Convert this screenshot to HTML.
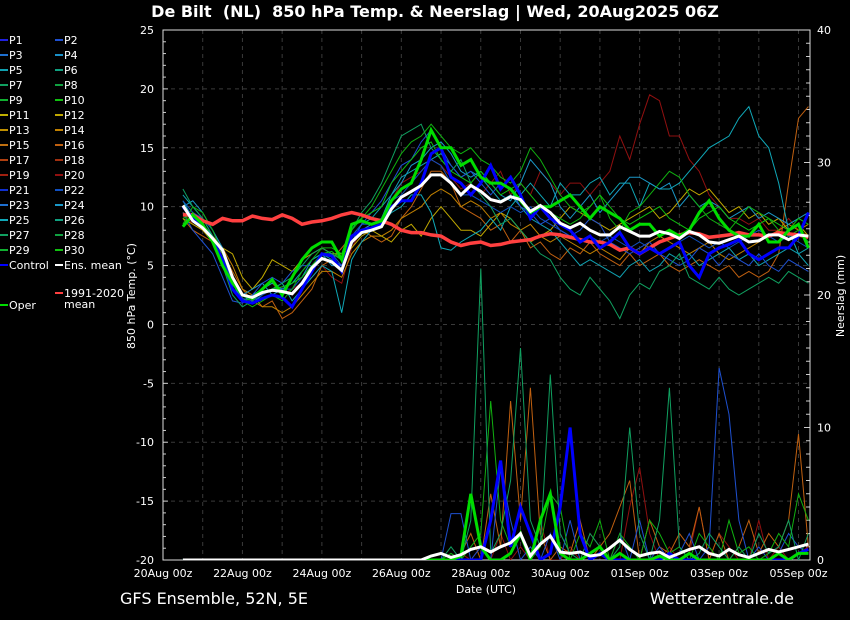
<!DOCTYPE html>
<html><head><meta charset="utf-8"><style>
html,body{margin:0;padding:0;background:#000;}
svg{display:block;font-family:"DejaVu Sans","Liberation Sans",sans-serif;}
</style></head><body>
<svg id="c" width="850" height="620" viewBox="0 0 850 620">
<rect x="0" y="0" width="850" height="620" fill="#000"/>
<text x="435" y="17" fill="#fff" font-size="16" font-weight="bold" text-anchor="middle" style="white-space:pre" xml:space="preserve">De Bilt  (NL)  850 hPa Temp. &amp; Neerslag | Wed, 20Aug2025 06Z</text>
<text x="120" y="604" fill="#fff" font-size="16">GFS Ensemble, 52N, 5E</text>
<text x="794" y="604" fill="#fff" font-size="16" text-anchor="end">Wetterzentrale.de</text>
<text x="486" y="593" fill="#fff" font-size="11" text-anchor="middle">Date (UTC)</text>
<text transform="translate(135,296) rotate(-90)" fill="#fff" font-size="11" text-anchor="middle">850 hPa Temp. (°C)</text>
<text transform="translate(844,296) rotate(-90)" fill="#fff" font-size="11" text-anchor="middle">Neerslag (mm)</text>
<g id="grid"></g>
<g id="axes"></g>
<defs><clipPath id="clip"><rect x="163" y="30" width="647" height="530"/></clipPath></defs>
<g id="plot" clip-path="url(#clip)"></g>
<g id="legend"></g>
</svg>
<script>
// ---- data (index 0 = 20Aug 12z, 6-hour steps) ----
const xTickLabels=["20Aug 00z","22Aug 00z","24Aug 00z","26Aug 00z","28Aug 00z","30Aug 00z","01Sep 00z","03Sep 00z","05Sep 00z"];
const yTicks=[25,20,15,10,5,0,-5,-10,-15,-20];
const y2Ticks=[40,30,20,10,0];
const ensMean=[10.1,8.8, 8.2,7.3,6.3,4.0, 2.5,2.3,2.7,2.9, 2.8,2.6,3.5,4.8, 5.6,5.3,4.6,7.0, 7.8,8.0,8.3,9.8, 10.8,11.3,11.8,12.7, 12.7,12.0,11.0,11.8, 11.3,10.6,10.4,10.85, 10.6,9.6,10.1,9.5, 8.6,8.2,8.6,8.0, 7.6,7.6,8.3,7.9, 7.5,7.5,7.9,7.7, 7.3,7.9,7.6,7.0, 6.9,7.2,7.5,7.0, 7.1,7.6,7.6,7.2, 7.6,7.5];
const control=[10.0,9.0, 8.3,7.2,5.5,3.0, 2.0,1.8,2.2,2.5, 2.3,1.5,3.0,4.5, 6.0,5.8,4.5,7.5, 8.0,8.2,8.5,10.0, 10.5,10.5,12.0,14.5, 15.0,12.5,12.0,11.0, 12.0,13.5,11.5,12.5, 11.0,9.0,10.0,9.0, 8.5,8.0,7.0,7.5, 6.5,7.0,7.8,6.5, 6.0,6.5,6.0,6.5, 7.0,5.0,4.0,6.0, 6.5,6.8,7.2,6.0, 5.5,6.0,6.5,6.5, 7.5,9.5];
const oper=[8.3,9.3, 8.5,7.0,5.0,3.5, 2.5,2.2,3.0,3.8, 2.5,4.0,5.5,6.5, 7.0,7.0,5.5,8.5, 8.8,8.5,8.8,10.5, 11.5,12.0,14.0,16.5, 15.0,15.0,13.5,14.0, 12.5,12.0,12.0,11.5, 10.5,9.5,10.0,10.0, 10.5,11.0,10.0,9.0, 10.0,9.5,9.0,8.0, 8.5,8.5,7.5,8.0, 7.5,8.0,9.5,10.5, 9.0,8.0,7.5,7.5, 8.5,7.0,7.0,8.0, 8.5,6.5];
const climMean=[9.3,9.3, 8.8,8.5,9.0,8.8, 8.8,9.2,9.0,8.9, 9.3,9.0,8.5,8.7, 8.8,9.0,9.3,9.5, 9.3,9.0,8.8,8.5, 8.0,7.8,7.8,7.6, 7.5,7.0,6.7,6.9, 7.0,6.7,6.8,7.0, 7.1,7.2,7.5,7.7, 7.6,7.4,7.2,7.0, 7.0,6.8,6.3,6.5, 6.0,6.5,7.0,7.3, 7.6,7.8,7.7,7.4, 7.5,7.6,7.8,7.6, 7.6,7.5,7.8,7.7, 7.6,7.4];
const p20=[9.5,8.5, 8.0,7.0,6.0,4.0, 2.0,2.5,3.0,3.5, 2.5,3.0,3.5,4.0, 5.0,4.0,3.5,6.5, 8.0,8.5,9.0,10.5, 12.0,12.5,13.0,14.0, 13.5,12.5,11.5,12.0, 11.0,12.0,13.0,11.0, 12.0,11.0,13.0,12.0, 11.0,12.0,12.0,11.0, 12.0,13.0,16.0,14.0, 17.0,19.5,19.0,16.0, 16.0,14.0,13.0,11.0, 10.0,9.0,9.0,8.5, 9.0,8.0,8.0,9.0, 8.0,7.5];
const p25=[10.5,9.0, 8.5,7.5,6.0,3.5, 2.0,1.8,2.5,3.0, 3.5,2.0,3.0,4.0, 5.0,4.5,1.0,5.5, 7.0,8.0,8.5,9.5, 10.0,11.0,11.0,9.5, 6.5,6.3,7.0,7.5, 8.0,9.0,8.0,10.0, 11.0,12.0,11.0,10.0, 12.0,11.0,11.0,12.0, 12.5,11.0,12.0,12.0, 10.0,12.0,11.5,11.5, 12.0,13.0,14.0,15.0, 15.5,16.0,17.5,18.5, 16.0,15.0,12.0,8.0, 6.0,5.0];
const p16=[9.0,8.0, 7.5,7.0,6.0,4.5, 3.0,2.0,1.5,2.0, 0.5,1.0,2.0,3.0, 5.0,5.5,6.5,7.5, 8.0,7.5,7.0,7.5, 9.0,10.0,11.5,13.0, 13.0,12.0,10.0,9.5, 9.0,8.0,8.5,7.0, 8.0,6.5,7.0,6.0, 5.5,6.5,6.0,7.0, 6.0,5.5,5.0,6.0, 5.0,5.5,6.0,5.0, 4.5,5.0,5.5,5.0, 4.5,5.0,4.0,4.5, 4.0,4.5,6.0,12.0, 17.5,18.5];
const p7=[11.5,10.0, 9.0,7.5,5.0,2.5, 1.5,2.0,2.8,3.0, 3.5,4.0,5.0,6.0, 6.5,6.0,5.5,8.0, 9.5,10.5,12.0,14.0, 16.0,16.5,17.0,15.0, 14.0,13.0,14.0,12.0, 11.0,10.0,8.5,9.0, 8.0,7.0,6.0,5.5, 4.0,3.0,2.5,4.0, 3.0,2.0,0.5,2.5, 3.5,3.0,4.5,5.0, 6.0,4.0,3.5,3.0, 4.0,3.0,2.5,3.0, 3.5,4.0,3.5,4.5, 4.0,3.5];
const p24=[10.0,10.5, 9.5,8.0,6.5,4.0, 2.5,3.0,3.5,2.5, 3.0,3.5,4.0,5.5, 6.0,5.0,5.0,7.0, 8.0,8.5,9.0,11.0, 12.0,13.5,14.0,15.0, 15.5,14.5,13.0,12.5, 13.0,12.0,11.0,10.5, 12.0,14.0,13.0,12.0, 10.0,9.0,10.0,11.0, 9.5,10.5,11.5,12.5, 12.5,12.0,11.5,12.0, 10.0,11.0,10.0,10.5, 10.0,9.0,9.5,10.0, 9.0,9.5,9.0,8.5, 9.0,9.5];
const p12=[9.0,8.5, 8.0,7.0,6.5,6.0, 4.0,3.0,4.0,5.5, 5.0,4.5,5.5,6.0, 6.5,6.0,6.0,6.5, 7.5,8.0,7.5,7.0, 8.0,8.5,7.5,9.0, 10.0,9.0,8.0,8.0, 7.5,8.5,9.5,9.0, 8.0,7.0,7.5,8.0, 9.0,10.0,9.5,9.0, 8.5,8.0,8.5,9.0, 9.5,10.0,9.0,9.5, 10.5,11.5,11.0,11.5, 10.5,9.5,10.0,9.0, 9.5,8.5,9.0,8.0, 8.5,7.5];
const p2=[9.5,8.0, 7.0,6.0,4.0,2.0, 1.8,2.5,3.5,4.0, 3.5,4.5,5.0,5.0, 5.5,5.5,5.0,7.0, 8.5,9.5,10.5,12.0, 13.5,14.0,15.5,16.5, 15.0,13.5,12.5,13.0, 12.0,11.0,12.0,11.5, 10.0,9.5,8.5,9.0, 8.0,7.5,8.0,9.0, 8.5,7.0,6.5,6.0, 6.5,7.0,6.0,5.5, 5.0,5.5,6.5,6.0, 5.0,6.0,5.5,5.0, 6.0,5.0,4.5,5.5, 5.0,4.5];
const p30=[8.5,10.0, 9.5,8.0,6.0,3.0, 2.0,1.5,2.0,2.5, 2.0,3.0,4.5,5.5, 6.5,6.5,6.0,8.5, 9.0,10.0,11.5,13.0, 14.5,15.5,16.0,17.0, 16.0,15.0,14.5,15.0, 14.0,13.5,12.5,12.0, 13.0,15.0,14.0,12.5, 11.0,10.0,9.5,10.0, 11.0,9.0,8.0,9.5, 10.0,11.0,12.0,13.0, 12.5,11.0,10.0,9.0, 8.5,8.0,9.0,10.0, 9.5,9.0,8.0,7.5, 8.0,7.0];
const p5=[11,10, 9,7.5,6,3.5, 2,2.5,3,3.5, 3,3.5,4.5,5.5, 6,5.5,5,7, 8.5,9,10,11, 12.5,13,13.5,14, 14.5,13.5,12.5,13, 12.5,11.5,10.5,11, 10,9,8.5,8, 7,6,5,5.5, 5,4.5,4,5, 5.5,4.5,5,6, 5.5,6,5,5.5, 6,6.5,5.5,6, 5,5.5,6,6.5, 6,6.5];
const p10=[9,9.5, 8.5,7,5.5,3, 2,2.2,2.8,3, 3.2,3.5,4,5, 6,6.2,5.5,8, 9,9.5,10,12, 13,14,15,15.5, 14,13,12.5,12, 13,12,11,11.5, 12,11,10,9.5, 9,8.5,9,10, 11,10,9,8.5, 9,9.5,10,9, 8.5,8,9,9.5, 10,9,8.5,8, 8.5,9,8.5,8, 9,8.5];
const p14=[9.5,9, 8.5,7.5,6.5,5, 3,2.5,1.5,1.5, 1,1.5,2.5,3.5, 4.5,4.5,4,6, 7,7.5,7.5,8, 9,9.5,10,11, 11.5,11,10,10.5, 10,9,9.5,8.5, 8,8.5,7.5,7, 7.5,7,6.5,6, 6.5,6,5.5,6.5, 6,7,7.5,7, 6.5,6,6.5,7, 6,5.5,6,6.5, 7,7.5,8,8.5, 8,8.5];
const p22=[10.5,9.5, 9,8,6,3.5, 2.2,2,2.5,3, 3,3,4,5, 6,6,5,7.5, 8.5,8.5,9,10.5, 11,12,13,14, 13.5,12,11,11, 10.5,10,9.5,10, 9.5,10,9,8.5, 8,7.5,7,7.5, 7,7.5,7,6.5, 7,6.5,6,6.5, 7,7.5,7,6.5, 7,6.5,7,7.5, 8,7.5,7,7.5, 7,6.5];
// precipitation (mm)
const precipMean=[0,0,0,0,0,0,0,0,0,0,0,0,0,0,0,0,0,0,0,0,0,0,0,0, 0,0.3,0.5,0.2,0.4,0.8,1.0,0.6,1.0,1.3,2.0,0.3,1.2,1.8,0.6,0.5,0.6,0.3,0.4,0.9,1.5,0.8,0.3,0.5,0.6,0.2,0.5,0.8,1.0,0.5,0.3,0.8,0.4,0.2,0.5,0.8,0.6,0.8,1.0,1.2];
const precipControl=[0,0,0,0,0,0,0,0,0,0,0,0,0,0,0,0,0,0,0,0,0,0,0,0, 0,0,0,0,0,0,0,3,7.5,1,4,2,0,0.5,4,10,2,0,0.5,0,0,0,0,0,0,0.5,0,0,0,0,0,0,0,0,0,0,0,0,0.5,0.8];
const precipOper=[0,0,0,0,0,0,0,0,0,0,0,0,0,0,0,0,0,0,0,0,0,0,0,0, 0,0,0,0,0.3,5,1,0,0,0.5,2,0,3,5,0.5,0,0,0.5,1,0,0.5,0,0,0,0.3,0,0,0.5,0,0,0,0,0,0,0,0,0.5,0,0.5,0.5];
const precipP7=[0,0,0,0,0,0,0,0,0,0,0,0,0,0,0,0,0,0,0,0,0,0,0,0, 0,0,0,1,0,3,22,0.5,2,6,16,3,1,14,2,0.5,0,2,1,0,1,10,2,0,3,13,1,0,0.5,2,1,0,1,0,2,0.5,1,3,0,2];
const precipP16=[0,0,0,0,0,0,0,0,0,0,0,0,0,0,0,0,0,0,0,0,0,0,0,0, 0,0,0,0,0.5,2,0,5,1,12,3,13,2,0,1,0.5,3,0,1,2,4,6,0,3,1,0.5,2,1,4,0,2,0,1,3,0.5,2,1,3,9.5,1];
const precipP2=[0,0,0,0,0,0,0,0,0,0,0,0,0,0,0,0,0,0,0,0,0,0,0,0, 0,0,0,3.5,3.5,0,1,0,7,3,0,1,0,2,0,3,0,0.5,1,0,2,0,3,0,1,0,0.5,2,0,1,14.5,11,3,0,1,0,0.5,2,1,0.5];
const precipP20=[0,0,0,0,0,0,0,0,0,0,0,0,0,0,0,0,0,0,0,0,0,0,0,0, 0,0,0,0,0.5,0,1,0,2,0,1,0,3,0,0,1,0,2,1,0,0,4,7,2,0,1,0,0.5,4,0,2,1,0,0,3,0,1,0,0.5,1];
const precipP30=[0,0,0,0,0,0,0,0,0,0,0,0,0,0,0,0,0,0,0,0,0,0,0,0, 0,0,0,0.5,0,1,2,12,3,1,2,0,1,5,4,0,2,1,3,0,2,1,0,3,2,0.5,1,0,2,1,0,3,0.5,1,0,0.5,2,1,5,3];
const legendNames=["P1","P2","P3","P4","P5","P6","P7","P8","P9","P10","P11","P12","P13","P14","P15","P16","P17","P18","P19","P20","P21","P22","P23","P24","P25","P26","P27","P28","P29","P30"];
const legendColors=["#2020e0","#1e50d0","#1e70d0","#1a90c8","#10a0b0","#10a080","#10a060","#10a040","#10b030","#10c010","#c0b000","#c0a800","#c09000","#c08000","#c07010","#c06010","#b04010","#a03010","#a02010","#901010","#1030d0","#1050c0","#1e70d0","#1a98c8","#10a8b8","#10a080","#10a060","#10a040","#10b030","#10c010"];

// ---- axes ----
const NS="http://www.w3.org/2000/svg";
const X0=163,X1=810,Y0=30,Y1=560,DAY=39.72;
function xIdx(i){return X0+(12+6*i)/24*DAY;}
function yT(t){return Y1-(t+20)/45*(Y1-Y0);}
function yP(p){return Y1-p/40*(Y1-Y0);}
function mk(tag,attrs,parent){const e=document.createElementNS(NS,tag);for(const k in attrs)e.setAttribute(k,attrs[k]);parent.appendChild(e);return e;}
const grid=document.getElementById('grid'),axes=document.getElementById('axes'),plot=document.getElementById('plot'),leg=document.getElementById('legend');
for(let d=1;d<=16;d++){const l=mk('line',{x1:X0+d*DAY,x2:X0+d*DAY,y1:Y0,y2:Y1,stroke:'#3a3a3a','stroke-dasharray':'4,4'},grid);

}
yTicks.forEach(t=>{const y=yT(t);
const l=mk('line',{x1:X0,x2:X1,y1:y,y2:y,stroke:'#3a3a3a','stroke-dasharray':'4,4'},grid);


const tx=mk('text',{x:154,y:y+4,fill:'#fff','font-size':11,'text-anchor':'end'},axes);tx.textContent=t;

});
for(let t=-20;t<=25;t++){const y=yT(t);mk('line',{x1:X0,x2:X0+(t%5?3:5),y1:y,y2:y,stroke:'#ccc'},axes);}
for(let p=0;p<=40;p++){const y=yP(p);mk('line',{x1:X1-(p%10?4:6),x2:X1,y1:y,y2:y,stroke:'#ccc'},axes);}
y2Ticks.forEach(p=>{const tx=mk('text',{x:817,y:yP(p)+4,fill:'#fff','font-size':11},axes);tx.textContent=p;

});
xTickLabels.forEach((s,k)=>{const tx=mk('text',{x:X0+k*2*DAY,y:577,fill:'#fff','font-size':11,'text-anchor':'middle'},axes);tx.textContent=s;

});
const fr=mk('rect',{x:X0,y:Y0,width:X1-X0,height:Y1-Y0,fill:'none',stroke:'#ddd','stroke-width':1},axes);



function line(arr,fy,color,w,name){const pts=arr.map((v,i)=>xIdx(i).toFixed(1)+','+fy(v).toFixed(1)).join(' ');
const p=mk('polyline',{points:pts,fill:'none',stroke:color,'stroke-width':w,'stroke-linejoin':'miter'},plot);

}
// precipitation
line(precipP20,yP,'#901010',1,'precip-p20');
line(precipP16,yP,'#c06010',1,'precip-p16');
line(precipP2,yP,'#1e50d0',1,'precip-p2');
line(precipP30,yP,'#10b010',1,'precip-p30');
line(precipP7,yP,'#10a060',1,'precip-p7');
line(precipControl,yP,'#0000ff',3,'precip-control');
line(precipOper,yP,'#00dd00',3,'precip-oper');
line(precipMean,yP,'#ffffff',3,'precip-ens-mean');
// temperature members
line(p20,yT,'#901010',1,'temp-p20');
line(p16,yT,'#c06010',1,'temp-p16');
line(p14,yT,'#c08000',1,'temp-p14');
line(p12,yT,'#c0a800',1,'temp-p12');
line(p25,yT,'#10a8b8',1,'temp-p25');
line(p24,yT,'#1a98c8',1,'temp-p24');
line(p5,yT,'#10a0b0',1,'temp-p5');
line(p22,yT,'#1050c0',1,'temp-p22');
line(p2,yT,'#1e50d0',1,'temp-p2');
line(p7,yT,'#10a060',1,'temp-p7');
line(p10,yT,'#10c010',1,'temp-p10');
line(p30,yT,'#10b010',1,'temp-p30');
line(climMean,yT,'#ff4040',3.5,'temp-climate-mean');
line(control,yT,'#0000ff',3,'temp-control');
line(oper,yT,'#00dd00',3,'temp-oper');
line(ensMean,yT,'#ffffff',3,'temp-ens-mean');

// legend
function legEntry(x,y,color,label,name){
const g=mk('g',{},leg);


mk('line',{x1:x,x2:x+8,y1:y,y2:y,stroke:color,'stroke-width':2},g);
const t=mk('text',{x:x+9,y:y+4,fill:'#fff','font-size':11},g);t.textContent=label;return t;}
legendNames.forEach((n,k)=>{const col=k%2,row=Math.floor(k/2);legEntry(col?55:0,40+row*15,legendColors[k],n,'legend-'+n.toLowerCase());});
legEntry(0,265,'#0000ff','Control','legend-control');
legEntry(55,265,'#ffffff','Ens. mean','legend-ens-mean');
legEntry(55,293,'#ff4040','1991-2020','legend-climate-mean');
const m=mk('text',{x:64,y:308,fill:'#fff','font-size':11},leg);m.textContent='mean';


legEntry(0,305,'#00dd00','Oper','legend-oper');
</script>
</body></html>
